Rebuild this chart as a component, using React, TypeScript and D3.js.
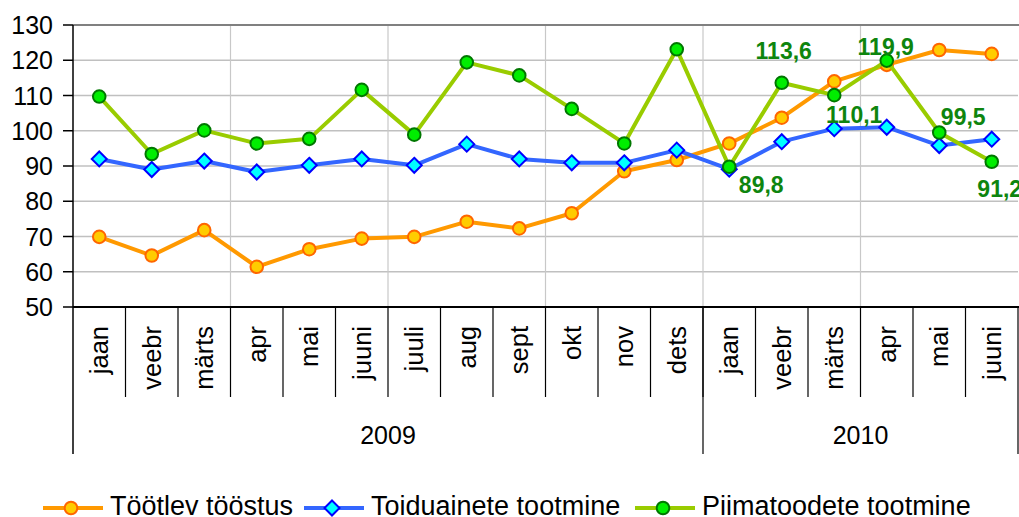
import React from "react";
import * as d3 from "d3";

const months = [
  "jaan", "veebr", "märts", "apr", "mai", "juuni", "juuli", "aug", "sept",
  "okt", "nov", "dets", "jaan", "veebr", "märts", "apr", "mai", "juuni",
];
const years = [
  { label: "2009", count: 12 },
  { label: "2010", count: 6 },
];

const tootlevToostus = [
  69.9, 64.6, 71.8, 61.4, 66.4, 69.4, 69.9, 74.2, 72.3, 76.6, 88.5, 91.7,
  96.4, 103.7, 114.0, 118.7, 122.9, 121.8,
];
const toiduaineteTootmine = [
  92.0, 89.0, 91.4, 88.3, 90.2, 92.0, 90.2, 96.2, 92.0, 90.9, 90.9, 94.5,
  89.1, 96.9, 100.6, 101.0, 95.8, 97.6,
];
const piimatoodeteTootmine = [
  109.7, 93.4, 100.1, 96.4, 97.7, 111.6, 98.9, 119.4, 115.7, 106.2, 96.4, 123.1,
  89.8, 113.6, 110.1, 119.9, 99.5, 91.2,
];
const yTicks = [50, 60, 70, 80, 90, 100, 110, 120, 130];

// labelled points of the dairy series (2010)
const labelIndices = [12, 13, 14, 15, 16, 17];

const W = 1019;
const H = 517;
const left = 73;
const right = 1018;
const top = 25;
const bottom = 307;
const font = "'Liberation Sans', Arial, sans-serif";

const series = [
  { name: "Töötlev tööstus", values: tootlevToostus, line: "#FF9900", fill: "#FFCC00", stroke: "#FF6600", shape: "circle" },
  { name: "Toiduainete tootmine", values: toiduaineteTootmine, line: "#3366FF", fill: "#00FFFF", stroke: "#0000FF", shape: "diamond" },
  { name: "Piimatoodete tootmine", values: piimatoodeteTootmine, line: "#99CC00", fill: "#00EE00", stroke: "#007700", shape: "circle" },
];

// label offsets relative to the point
const labelOffsets: Record<number, [number, number]> = {
  12: [32, 26],
  13: [2, -24],
  14: [20, 28],
  15: [-1, -6],
  16: [24, -8],
  17: [8, 35],
};

function Marker({ x, y, s }: { x: number; y: number; s: (typeof series)[number] }) {
  if (s.shape === "diamond") {
    const r = 7.5;
    return (
      <path
        d={`M${x},${y - r}L${x + r},${y}L${x},${y + r}L${x - r},${y}Z`}
        fill={s.fill}
        stroke={s.stroke}
        strokeWidth={2}
      />
    );
  }
  return <circle cx={x} cy={y} r={6.3} fill={s.fill} stroke={s.stroke} strokeWidth={2} />;
}

export default function App() {
  const x = d3.scaleBand<number>().domain(months.map((_, i) => i)).range([left, right]);
  const y = d3.scaleLinear().domain([50, 130]).range([bottom, top]);
  const bw = x.bandwidth();
  const cx = (i: number) => (x(i) as number) + bw / 2;

  const line = d3
    .line<number>()
    .x((_, i) => cx(i))
    .y((d) => y(d));

  let acc = 0;
  const yearBounds = years.map((yr) => {
    const start = acc;
    acc += yr.count;
    return { ...yr, start, end: acc };
  });

  return (
    <svg
      width={W}
      height={H}
      style={{ position: "absolute", left: 0, top: 0, background: "#fff" }}
      fontFamily={font}
    >
      {/* horizontal grid */}
      {yTicks.slice(1, -1).map((t) => (
        <line key={t} x1={left} x2={right} y1={y(t)} y2={y(t)} stroke="#C0C0C0" strokeWidth={1.5} />
      ))}
      {/* vertical grid every quarter */}
      {months.map((_, i) =>
        i > 0 && i % 3 === 0 ? (
          <line key={i} x1={x(i)} x2={x(i)} y1={top} y2={bottom} stroke="#C8C8C8" strokeWidth={1.2} />
        ) : null
      )}
      <line x1={left} x2={right + 1} y1={top} y2={top} stroke="#808080" strokeWidth={2} />

      {/* y axis */}
      <line x1={left} x2={left} y1={top} y2={454} stroke="#000" strokeWidth={1.5} />
      {yTicks.map((t) => (
        <g key={t}>
          <line x1={63} x2={left} y1={y(t)} y2={y(t)} stroke="#000" strokeWidth={1.5} />
          <text x={53} y={y(t)} dy="0.36em" textAnchor="end" fontSize={25} fill="#000">
            {t}
          </text>
        </g>
      ))}

      {/* x axis */}
      <line x1={left} x2={right + 1} y1={bottom} y2={bottom} stroke="#000" strokeWidth={2} />
      {months.map((_, i) =>
        i > 0 ? (
          <line key={i} x1={x(i)} x2={x(i)} y1={bottom} y2={397} stroke="#000" strokeWidth={1.2} />
        ) : null
      )}
      {yearBounds.map((yb) => (
        <line
          key={yb.label}
          x1={yb.end >= months.length ? right : (x(yb.end) as number)}
          x2={yb.end >= months.length ? right : (x(yb.end) as number)}
          y1={bottom}
          y2={454}
          stroke="#000"
          strokeWidth={1.2}
        />
      ))}
      {months.map((m, i) => (
        <text
          key={i}
          transform={`translate(${cx(i)},326) rotate(-90)`}
          dy="0.35em"
          textAnchor="end"
          fontSize={25.5}
          fill="#000"
        >
          {m}
        </text>
      ))}
      {yearBounds.map((yb) => {
        const x0 = x(yb.start) as number;
        const x1 = yb.end >= months.length ? right : (x(yb.end) as number);
        return (
          <text key={yb.label} x={(x0 + x1) / 2} y={435} dy="0.35em" textAnchor="middle" fontSize={25} fill="#000">
            {yb.label}
          </text>
        );
      })}

      {/* series */}
      {series.map((s) => (
        <g key={s.name}>
          <path d={line(s.values) ?? ""} fill="none" stroke={s.line} strokeWidth={4} strokeLinejoin="round" />
          {s.values.map((v, i) => (
            <Marker key={i} x={cx(i)} y={y(v)} s={s} />
          ))}
        </g>
      ))}

      {/* data labels */}
      {labelIndices.map((i) => {
        const [dx, dy] = labelOffsets[i];
        return (
          <text
            key={i}
            x={cx(i) + dx}
            y={y(piimatoodeteTootmine[i]) + dy}
            textAnchor="middle"
            fontSize={23}
            fontWeight="bold"
            fill="#0E850E"
          >
            {piimatoodeteTootmine[i].toFixed(1).replace(".", ",")}
          </text>
        );
      })}

      {/* legend */}
      {series.map((s, k) => {
        const lx = [43, 304, 635][k];
        const ly = 508;
        return (
          <g key={s.name}>
            <line x1={lx} x2={lx + 60} y1={ly} y2={ly} stroke={s.line} strokeWidth={4} />
            <Marker x={lx + 28} y={ly} s={s} />
            <text x={lx + 67} y={515} fontSize={27} fill="#000">
              {s.name}
            </text>
          </g>
        );
      })}
    </svg>
  );
}
